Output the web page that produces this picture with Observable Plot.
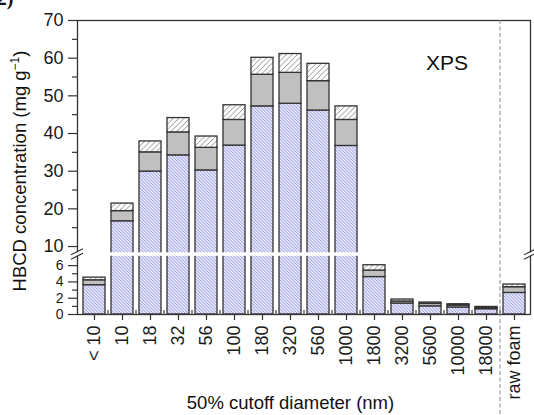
<!DOCTYPE html>
<html><head><meta charset="utf-8">
<script src="https://cdn.jsdelivr.net/npm/d3@7"></script>
<script src="https://cdn.jsdelivr.net/npm/@observablehq/plot@0.6"></script>
<style>body{margin:0;background:#fff} svg{display:block}</style>
</head><body>
<script>
// ---- data ----
const categories = ["< 10","10","18","32","56","100","180","320","560","1000","1800","3200","5600","10000","18000","raw foam"];
const layerNames = ["bottom","middle","upper"];
const bottomValues = [3.6,16.7,29.9,34.2,30.2,36.8,47.2,47.9,46.1,36.7,4.6,1.35,1.0,0.86,0.65,2.65];
const middleValues = [0.6,2.7,5.1,6.1,6.0,6.8,8.4,8.2,7.8,6.9,0.8,0.25,0.3,0.24,0.15,0.7];
const upperValues  = [0.33,2.0,2.9,3.8,3.0,3.9,4.5,5.0,4.6,3.6,0.65,0.24,0.17,0.16,0.13,0.33];
const upperTicksY = [10,20,30,40,50,60,70];
const lowerTicksY = [0,2,4,6];
const minorTicksY = [1,3,5,15,25,35,45,55,65];
const BREAK_LO = 7, BREAK_HI = 8.6, Y_MAX = 70;

const rows = [];
categories.forEach((c, i) => {
  rows.push({cat: c, layer: "bottom", v: bottomValues[i]});
  rows.push({cat: c, layer: "middle", v: middleValues[i]});
  rows.push({cat: c, layer: "upper", v: upperValues[i]});
});

const W = 534, H = 415, mL = 77, mR = 4, mT = 20, mB = 101;
const FONT = "'Liberation Sans', Arial, Helvetica, sans-serif";

const defsMark = () => {
  const d = d3.create("svg:defs");
  const s = 3.2;
  const p1 = d.append("pattern").attr("id","hatchBlue").attr("patternUnits","userSpaceOnUse").attr("width",s).attr("height",s);
  p1.append("rect").attr("width",s).attr("height",s).attr("fill","#e4e4fa");
  p1.append("path").attr("d",`M0,0L${s},${s}M-1,${s-1}L1,${s+1}M${s-1},-1L${s+1},1`).attr("stroke","#8484d4").attr("stroke-width",0.7);
  const t = 5.5;
  const p2 = d.append("pattern").attr("id","hatchGray").attr("patternUnits","userSpaceOnUse").attr("width",t).attr("height",t);
  p2.append("rect").attr("width",t).attr("height",t).attr("fill","#ffffff");
  p2.append("path").attr("d",`M0,${t}L${t},0M-1,1L1,-1M${t-1},${t+1}L${t+1},${t-1}`).attr("stroke","#858585").attr("stroke-width",0.9);
  return d.node();
};

const overlayMark = (index, scales, values, dims) => {
  const x = scales.x, y = scales.y;
  const g = d3.create("svg:g");
  const L = dims.marginLeft, R = dims.width - dims.marginRight;
  const B = dims.height - dims.marginBottom;
  const yHi = y(BREAK_HI), yLo = y(BREAK_LO);
  // white gap of the broken axis
  g.append("rect").attr("x", L - 12).attr("y", yHi + 1).attr("width", R - L + 20)
    .attr("height", Math.max(1, yLo - yHi - 2.2)).attr("fill", "#fff");
  // break marks
  for (const e of [L, R]) {
    for (const yb of [yHi + 0.5, yLo - 0.8]) {
      g.append("line").attr("x1", e - 6).attr("y1", yb + 3).attr("x2", e + 6).attr("y2", yb - 3)
        .attr("stroke", "#333").attr("stroke-width", 1.2);
    }
  }
  // minor x ticks at band boundaries
  const step = x.step(), bw = x.bandwidth();
  categories.forEach((c, i) => {
    if (i === 0) return;
    const xb = x(c) - (step - bw) / 2;
    g.append("line").attr("x1", xb).attr("x2", xb).attr("y1", B).attr("y2", B - 4)
      .attr("stroke", "#333").attr("stroke-width", 1.1);
  });
  // dashed separator before raw foam
  const xr = x("raw foam") - (step - bw) / 2;
  g.append("line").attr("x1", xr).attr("x2", xr).attr("y1", dims.marginTop).attr("y2", dims.height)
    .attr("stroke", "#8a8a8a").attr("stroke-width", 1).attr("stroke-dasharray", "4,2.5");
  // texts
  g.append("text").attr("x", 447).attr("y", 70).attr("text-anchor", "middle")
    .attr("font-size", 21).attr("fill", "#111").text("XPS");
  const yl = g.append("text").attr("transform", "translate(26,171) rotate(-90)")
    .attr("text-anchor", "middle").attr("font-size", 18.5).attr("fill", "#111");
  yl.append("tspan").text("HBCD concentration (mg g");
  yl.append("tspan").attr("font-size", 12).attr("dy", -7.5).text("−1");
  yl.append("tspan").attr("dy", 7.5).text(")");
  g.append("text").attr("x", (L + R) / 2 - 13).attr("y", 409).attr("text-anchor", "middle")
    .attr("font-size", 18.5).attr("fill", "#111").text("50% cutoff diameter (nm)");
  g.append("text").attr("x", 0).attr("y", 5).attr("font-size", 20).attr("font-weight", "bold")
    .attr("font-family", "'Liberation Serif', 'Times New Roman', serif").attr("fill", "#111").text("12)");
  return g.node();
};

const chart = Plot.plot({
  width: W, height: H,
  marginLeft: mL, marginRight: mR, marginTop: mT, marginBottom: mB,
  style: {fontFamily: FONT, fontSize: "18px", color: "#1a1a1a", background: "#fff"},
  x: {domain: categories, paddingInner: 0.225, paddingOuter: 0.1, axis: null},
  y: {type: "linear", domain: [0, BREAK_LO, BREAK_HI, Y_MAX], range: [H - mB, 257, 251.3, mT], axis: null},
  color: {domain: layerNames, range: ["url(#hatchBlue)", "#c0c0c0", "url(#hatchGray)"]},
  marks: [
    defsMark,
    Plot.barY(rows, {x: "cat", y: "v", fill: "layer", stroke: "#333", strokeWidth: 1.3, order: layerNames}),
    Plot.frame({stroke: "#333", strokeWidth: 1.3}),
    overlayMark,
    Plot.axisY({ticks: upperTicksY, tickSize: 9, tickPadding: 5, label: null, stroke: "#333", strokeWidth: 1.2, fontSize: 18}),
    Plot.axisY({ticks: lowerTicksY, tickSize: 9, tickPadding: 5, label: null, stroke: "#333", strokeWidth: 1.2, fontSize: 14}),
    Plot.axisY({ticks: minorTicksY, tickSize: 5, tickFormat: () => "", label: null, stroke: "#333", strokeWidth: 1.2}),
    Plot.axisX({tickRotate: -90, tickSize: 6, tickPadding: 5, label: null, stroke: "#333", strokeWidth: 1.2})
  ]
});
document.body.appendChild(chart);
</script>
</body></html>
